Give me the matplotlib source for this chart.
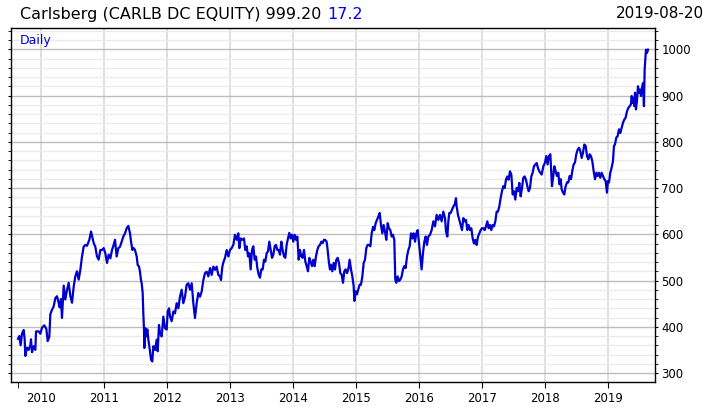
import matplotlib.pyplot as plt
from matplotlib.ticker import MultipleLocator, FixedLocator

# closing prices, x is the fractional year
years = [
    2009.635, 2009.656, 2009.677, 2009.698, 2009.725, 2009.741, 2009.751, 2009.778, 2009.804, 2009.831,
    2009.841, 2009.857, 2009.884, 2009.910, 2009.921, 2009.963, 2009.989, 2010.016, 2010.053, 2010.085,
    2010.106, 2010.132, 2010.148, 2010.175, 2010.201, 2010.228, 2010.254, 2010.280, 2010.296, 2010.317,
    2010.333, 2010.360, 2010.386, 2010.413, 2010.439, 2010.466, 2010.492, 2010.519, 2010.545, 2010.571,
    2010.598, 2010.624, 2010.651, 2010.677, 2010.704, 2010.730, 2010.767, 2010.794, 2010.820, 2010.836,
    2010.862, 2010.889, 2010.915, 2010.942, 2010.968, 2010.995, 2011.021, 2011.048, 2011.074, 2011.101,
    2011.127, 2011.153,
    2011.175, 2011.201, 2011.228, 2011.254, 2011.280, 2011.307, 2011.333, 2011.360, 2011.386, 2011.413,
    2011.429, 2011.450, 2011.471, 2011.492, 2011.519, 2011.534, 2011.556, 2011.571, 2011.587, 2011.598,
    2011.614, 2011.624, 2011.635, 2011.640, 2011.656, 2011.672, 2011.688, 2011.704, 2011.730, 2011.746,
    2011.767, 2011.783, 2011.810, 2011.836, 2011.852, 2011.873, 2011.889, 2011.915, 2011.942, 2011.968,
    2011.995, 2012.011, 2012.032, 2012.048, 2012.074, 2012.101, 2012.127, 2012.153, 2012.180, 2012.206,
    2012.233, 2012.259, 2012.286, 2012.312, 2012.339, 2012.365, 2012.392, 2012.418, 2012.444, 2012.471,
    2012.497, 2012.524, 2012.550, 2012.577, 2012.603, 2012.630, 2012.656, 2012.683, 2012.709, 2012.735,
    2012.762, 2012.788, 2012.815, 2012.841, 2012.857, 2012.878, 2012.899,
    2012.921, 2012.947, 2012.974, 2013.000, 2013.026, 2013.053, 2013.079, 2013.106, 2013.132, 2013.148,
    2013.169, 2013.196, 2013.222, 2013.243, 2013.265, 2013.286, 2013.307, 2013.328, 2013.349, 2013.370,
    2013.392, 2013.413, 2013.434, 2013.455, 2013.476, 2013.497, 2013.519, 2013.540, 2013.561, 2013.582,
    2013.603, 2013.624, 2013.646, 2013.667, 2013.688, 2013.709, 2013.730, 2013.751, 2013.772, 2013.794,
    2013.815, 2013.836, 2013.857, 2013.878, 2013.899, 2013.921, 2013.942, 2013.963, 2013.984, 2014.005,
    2014.026, 2014.048, 2014.069, 2014.090, 2014.111, 2014.132, 2014.153, 2014.175, 2014.196, 2014.217,
    2014.238, 2014.259, 2014.280, 2014.302, 2014.323, 2014.344, 2014.365, 2014.386, 2014.407, 2014.429,
    2014.450, 2014.471, 2014.492,
    2014.508, 2014.534, 2014.550, 2014.571, 2014.587, 2014.603, 2014.624, 2014.646, 2014.667, 2014.688,
    2014.709, 2014.730, 2014.751, 2014.772, 2014.794, 2014.815, 2014.836, 2014.857, 2014.878, 2014.899,
    2014.921, 2014.942, 2014.963, 2014.974, 2014.995, 2015.016, 2015.037, 2015.058, 2015.079, 2015.101,
    2015.122, 2015.143, 2015.164, 2015.185, 2015.206, 2015.228, 2015.249, 2015.270, 2015.291, 2015.312,
    2015.333, 2015.354, 2015.376, 2015.397, 2015.418, 2015.439, 2015.460, 2015.481, 2015.503, 2015.524,
    2015.545, 2015.566, 2015.587, 2015.608, 2015.624, 2015.640, 2015.661, 2015.683, 2015.704, 2015.725,
    2015.746, 2015.767, 2015.788, 2015.810, 2015.831, 2015.852, 2015.873, 2015.894, 2015.915, 2015.937,
    2015.958, 2015.979, 2016.000, 2016.021, 2016.042, 2016.063, 2016.085, 2016.106, 2016.127, 2016.148,
    2016.175, 2016.201, 2016.228, 2016.254, 2016.280, 2016.307, 2016.333, 2016.360, 2016.386, 2016.413,
    2016.429, 2016.450, 2016.466, 2016.481, 2016.503, 2016.524, 2016.545, 2016.566, 2016.587, 2016.598,
    2016.619, 2016.640, 2016.661, 2016.683, 2016.704, 2016.725, 2016.746, 2016.767, 2016.788, 2016.810,
    2016.831, 2016.852, 2016.873, 2016.894, 2016.915, 2016.937, 2016.958, 2016.979, 2017.000, 2017.021,
    2017.042, 2017.063, 2017.085, 2017.106, 2017.127, 2017.148, 2017.169, 2017.190, 2017.212, 2017.233,
    2017.254, 2017.275, 2017.296, 2017.317, 2017.339, 2017.360, 2017.381, 2017.402, 2017.423, 2017.444,
    2017.466, 2017.487, 2017.508, 2017.529, 2017.550, 2017.571, 2017.593, 2017.614, 2017.635, 2017.656,
    2017.677, 2017.698, 2017.720, 2017.741, 2017.762, 2017.783, 2017.804, 2017.825, 2017.847, 2017.868,
    2017.889, 2017.910,
    2017.947, 2017.974, 2018.000, 2018.021, 2018.042, 2018.063, 2018.085, 2018.095, 2018.111, 2018.132,
    2018.148, 2018.169, 2018.190, 2018.212, 2018.228, 2018.249, 2018.265, 2018.286, 2018.307, 2018.328,
    2018.349, 2018.370, 2018.392, 2018.413, 2018.434, 2018.455, 2018.476, 2018.497, 2018.519, 2018.540,
    2018.561, 2018.582, 2018.603, 2018.624, 2018.646, 2018.667, 2018.688, 2018.709, 2018.730, 2018.751,
    2018.772, 2018.794, 2018.815, 2018.836, 2018.857, 2018.878, 2018.899, 2018.921, 2018.942, 2018.963,
    2018.984, 2019.000, 2019.016, 2019.037, 2019.058, 2019.079, 2019.095, 2019.111, 2019.132, 2019.153,
    2019.175, 2019.196, 2019.217, 2019.238, 2019.259, 2019.280, 2019.302, 2019.323, 2019.344, 2019.365,
    2019.376, 2019.392, 2019.407, 2019.418, 2019.429, 2019.444, 2019.460, 2019.476, 2019.492, 2019.508,
    2019.524, 2019.540, 2019.556, 2019.571, 2019.582, 2019.593, 2019.603, 2019.619, 2019.636,
]
close = [
    374, 380, 360, 385, 393, 372, 337, 355, 350, 360,
    373, 345, 358, 350, 390, 390, 385, 398, 403, 395,
    369, 378, 427, 437, 444, 462, 466, 452, 442, 460,
    419, 489, 459, 480, 495, 466, 452, 487, 509, 520,
    502, 523, 552, 573, 577, 575, 588, 606, 591, 581,
    573, 552, 545, 566, 566, 570, 559, 538, 556, 548,
    566, 577,
    588, 552, 570, 573, 584, 595, 602, 613, 618, 602,
    584, 566, 570, 566, 552, 534, 530, 519, 501, 494,
    473, 429, 394, 354, 397, 379, 394, 372, 347, 329,
    325, 358, 350, 372, 347, 404, 386, 379, 422, 397,
    394, 433, 440, 422, 412, 433, 429, 451, 440, 465,
    480, 451, 465, 491, 494, 480, 494, 451, 419, 451,
    473, 465, 476, 501, 516, 519, 509, 527, 512, 530,
    523, 530, 512, 509, 501, 530, 541,
    549, 566, 552, 566, 570, 577, 599, 588, 602, 570,
    591, 588, 591, 566, 574, 552, 559, 524, 566, 574,
    545, 552, 527, 513, 506, 524, 524, 545, 541, 559,
    563, 584, 566, 549, 556, 574, 577, 566, 566, 556,
    584, 566, 552, 549, 577, 591, 603, 591, 599, 584,
    599, 588, 595, 545, 566, 552, 549, 566, 541, 531,
    520, 549, 541, 531, 545, 531, 552, 566, 574, 577,
    584, 581, 588,
    588, 584, 566, 538, 524, 534, 520, 538, 524, 545,
    549, 538, 516, 513, 495, 520, 524, 516, 524, 545,
    524, 509, 488, 456, 477, 470, 481, 491, 491, 509,
    538, 545, 570, 577, 577, 574, 602, 616, 609, 624,
    631, 638, 646, 620, 602, 620, 606, 588, 624, 613,
    609, 595, 599, 588, 502, 495, 509, 499, 502, 509,
    524, 531, 527, 552, 566, 574, 602, 591, 602, 584,
    602, 609, 581, 552, 524, 559, 584, 595, 577, 595,
    599, 609, 628, 617, 642, 631, 642, 628, 649, 635,
    606, 595, 628, 646, 646, 653, 660, 664, 678, 660,
    642, 631, 620, 609, 635, 628, 631, 609, 620, 609,
    613, 591, 580, 588, 577, 595, 602, 609, 613, 613,
    609, 617, 628, 613, 620, 609, 620, 617, 628, 649,
    649, 660, 678, 693, 704, 700, 718, 725, 718, 736,
    729, 686, 693, 675, 700, 693, 711, 682, 700, 722,
    725, 718, 704, 693, 700, 725, 733, 747, 751, 754,
    743, 736,
    729, 747, 755, 769, 751, 769, 773, 747, 704, 726,
    747, 737, 726, 733, 708, 719, 697, 690, 686, 704,
    712, 712, 726, 719, 737, 751, 755, 773, 783, 787,
    780, 765, 776, 794, 791, 769, 762, 773, 769, 758,
    737, 719, 733, 726, 733, 722, 733, 726, 719, 715,
    690, 715, 712, 733, 744, 758, 791, 794, 809, 812,
    827, 819, 830, 841, 848, 852, 866, 873, 877, 881,
    899, 884, 895, 877, 906, 870, 888, 920, 906, 913,
    899, 917, 927, 877, 956, 978, 999, 992, 999.2,
]

year_ticks = list(range(2010, 2020))
price_ticks = list(range(300, 1001, 100))

fig = plt.figure(figsize=(7.11, 4.11), dpi=100)
ax = fig.add_axes([0.0155, 0.0706, 0.9057, 0.8613])

ax.plot(years, close, color='#0000CC', lw=1.6)

ax.set_xlim(2009.524, 2019.746)
ax.set_ylim(280.6, 1046)

# x axis: year starts, plus a small tick where the data begins
ax.set_xticks(year_ticks)
ax.set_xticklabels([str(y) for y in year_ticks])
ax.xaxis.set_minor_locator(FixedLocator([years[0]]))
ax.tick_params(axis='x', which='both', length=4, direction='out', labelsize=8.5, pad=3)
ax.xaxis.get_major_ticks()[0].tick1line.set_visible(False)

# y axis on the right
ax.yaxis.tick_right()
ax.set_yticks(price_ticks)
ax.yaxis.set_minor_locator(MultipleLocator(20))
ax.tick_params(axis='y', which='both', left=True, right=True, length=2.5,
               direction='out', labelsize=8.5, pad=2)

ax.grid(which='major', axis='x', color='#DCDCDC', lw=1.3)
ax.grid(which='minor', axis='y', color='#EBEBEB', lw=1.0)
ax.grid(which='major', axis='y', color='#BEBEBE', lw=1.0)
ax.set_axisbelow(True)

for s in ax.spines.values():
    s.set_linewidth(1.0)
    s.set_color('black')

t1 = fig.text(20 / 711, 1 - 19 / 411, 'Carlsberg (CARLB DC EQUITY) 999.20',
              fontsize=11.5, va='baseline', ha='left')
ax.annotate('17.2', xy=(1, 0), xycoords=t1, xytext=(4, 0), textcoords='offset points',
            fontsize=11.5, color='#0000FF', va='bottom', ha='left')
fig.text(704 / 711, 1 - 18 / 411, '2019-08-20', fontsize=11, va='baseline', ha='right')
ax.text(20 / 711, 1 - 44 / 411, 'Daily', transform=fig.transFigure, fontsize=9,
        color='#0000DD', va='baseline', ha='left')

plt.savefig('out.png', dpi=100)
